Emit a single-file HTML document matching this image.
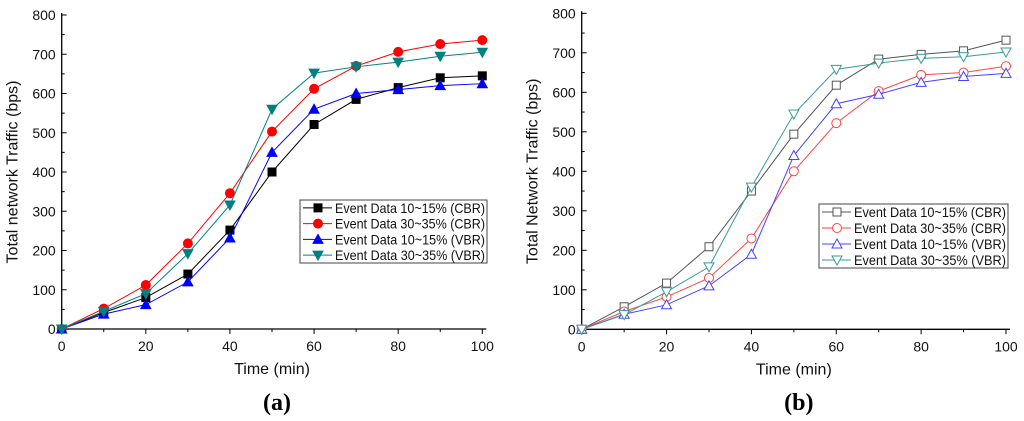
<!DOCTYPE html>
<html><head><meta charset="utf-8"><style>
body{margin:0;background:#fff;width:1024px;height:421px;overflow:hidden}
svg{display:block;font-family:"Liberation Sans",sans-serif}
</style></head><body>
<svg id="s" width="1024" height="421"></svg>
<script>
const xCats=[0,10,20,30,40,50,60,70,80,90,100];
const xTicks=[0,20,40,60,80,100];
const yTicks=[0,100,200,300,400,500,600,700,800];
const seriesNames=["Event Data 10~15% (CBR)","Event Data 30~35% (CBR)","Event Data 10~15% (VBR)","Event Data 30~35% (VBR)"];
const aCbr10=[0,42,80,140,252,400,521,585,615,640,645];
const aCbr30=[0,52,112,218,346,503,612,670,706,726,736];
const aVbr10=[0,38,62,120,232,450,560,600,610,620,625];
const aVbr30=[0,45,90,192,316,560,652,668,680,695,705];
const bCbr10=[0,57,117,209,350,494,618,684,696,705,732];
const bCbr30=[0,45,82,130,230,400,522,603,644,650,666];
const bVbr10=[0,38,62,110,190,440,571,595,625,640,648];
const bVbr30=[0,37,95,158,360,545,658,674,686,690,702];
const NS="http://www.w3.org/2000/svg";
const svg=document.getElementById('s');
function mk(tag,attrs,parent,text){const e=document.createElementNS(NS,tag);for(const k in attrs)e.setAttribute(k,attrs[k]);if(text!==undefined)e.textContent=text;(parent||svg).appendChild(e);return e;}
function marker(g,type,x,y,color,filled){
  const f=filled?color:'#fff';let m;
  if(type==='sq')m=mk('rect',{x:x-4,y:y-4,width:8,height:8,fill:f,stroke:color,'stroke-width':1},g);
  else if(type==='ci')m=mk('circle',{cx:x,cy:y,r:4.5,fill:f,stroke:color,'stroke-width':1},g);
  else if(type==='up')m=mk('polygon',{points:`${x},${y-5} ${x-5},${y+4} ${x+5},${y+4}`,fill:f,stroke:color,'stroke-width':1},g);
  else m=mk('polygon',{points:`${x},${y+5} ${x-5},${y-4} ${x+5},${y-4}`,fill:f,stroke:color,'stroke-width':1},g);
  
  
}
function chart(id,x0,x1,y0,y1,data,filled,ylab,label,leg){
  const X=v=>x0+(v/100)*(x1-x0), Y=v=>y0-(v/800)*(y0-y1);
  const g=mk('g',{});
  
  
  const ax=mk('path',{d:`M${x0},${y1-2}V${y0}H${X(100)+4}`,stroke:'#000','stroke-width':1.3,fill:'none'},g);
  
  
  yTicks.forEach(t=>{mk('line',{x1:x0,x2:x0+5,y1:Y(t),y2:Y(t),stroke:'#000'},g);
    if(t<800)mk('line',{x1:x0,x2:x0+3,y1:Y(t+50),y2:Y(t+50),stroke:'#000'},g);
    const tl=mk('text',{x:x0-6,y:Y(t)+5,'text-anchor':'end','font-size':14,fill:'#111'},g,t);
    
    });
  for(let v=0;v<=100;v+=10)mk('line',{x1:X(v),x2:X(v),y1:y0,y2:y0+(v%20?3:5),stroke:'#000'},g);
  xTicks.forEach(t=>{const tl=mk('text',{x:X(t),y:y0+22,'text-anchor':'middle','font-size':14,fill:'#111'},g,t);
    
    });
  const xt=mk('text',{x:(x0+X(100))/2,y:y0+45,'text-anchor':'middle','font-size':16,fill:'#111'},g,'Time (min)');
  
  
  const yt=mk('text',{x:0,y:0,transform:`translate(${x0-44},${(y0+y1)/2}) rotate(-90)`,'text-anchor':'middle','font-size':16,fill:'#111'},g,ylab);
  
  
  const pl=mk('text',{x:(x0+X(100))/2+5,y:410,'text-anchor':'middle','font-size':24,'font-weight':'bold','font-family':'Liberation Serif,serif'},g,label);
  
  
  const colors=filled?['#000','#f00','#00f','#008080']:['#555','#f44','#44f','#3a9a9a'];
  const types=['sq','ci','up','dn'];
  data.forEach((d,i)=>{const s=mk('g',{},g);
    
    
    mk('polyline',{points:d.map((v,j)=>X(xCats[j])+','+Y(v)).join(' '),fill:'none',stroke:colors[i],'stroke-width':1},s);
    d.forEach((v,j)=>marker(s,types[i],X(xCats[j]),Y(v),colors[i],filled));});
  const lg=mk('g',{},g);
  
  
  mk('rect',{x:leg[0],y:leg[1],width:leg[2],height:leg[3],fill:'#fff',stroke:'#444','stroke-width':1},lg);
  const rh=leg[3]/4;
  seriesNames.forEach((n,i)=>{const cy=leg[1]+rh*(i+0.5);
    const e=mk('g',{},lg);
    
    
    mk('line',{x1:leg[0]+3,x2:leg[0]+32,y1:cy,y2:cy,stroke:colors[i]},e);
    marker(e,types[i],leg[0]+18,cy,colors[i],filled);
    mk('text',{x:leg[0]+35,y:cy+5,'font-size':14,fill:'#111',textLength:leg[2]-37,lengthAdjust:'spacingAndGlyphs'},e,n);});
}
chart('a',61.7,482.3,329,15,[aCbr10,aCbr30,aVbr10,aVbr30],true,'Total network Traffic (bps)','(a)',[300,200,187,63]);
chart('b',581.7,1006,329.3,13.3,[bCbr10,bCbr30,bVbr10,bVbr30],false,'Total Network Traffic (bps)','(b)',[819,204,189,64]);
</script>
</body></html>
